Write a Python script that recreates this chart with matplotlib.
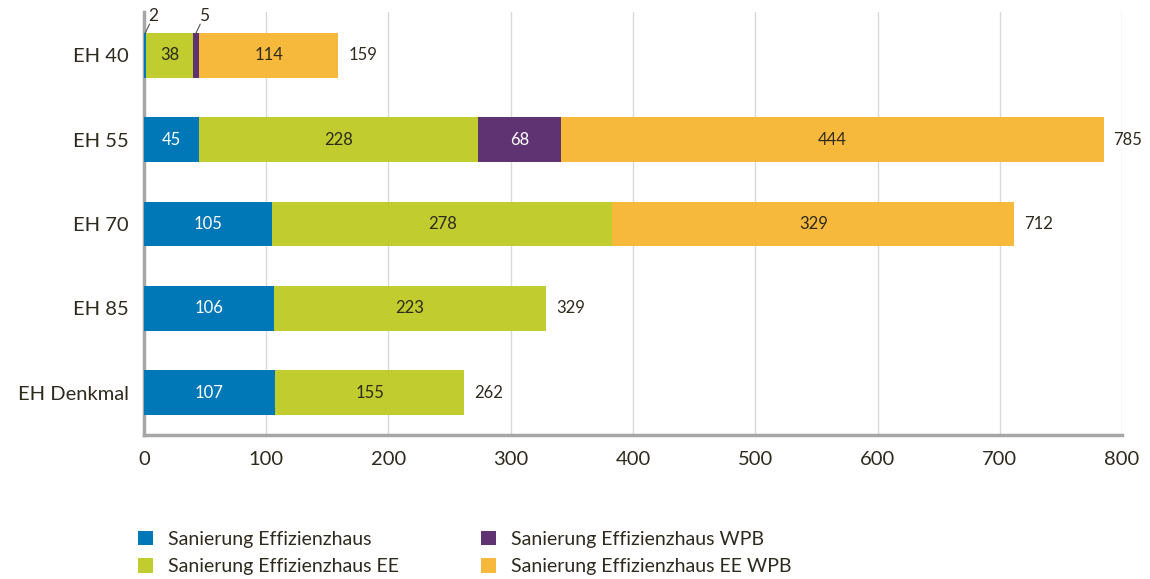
import numpy as np
import matplotlib.pyplot as plt

plt.rcParams['font.family'] = ['Lato', 'DejaVu Sans']

# Daten
kategorien = ['EH 40', 'EH 55', 'EH 70', 'EH 85', 'EH Denkmal']
sanierung_eh = [2, 45, 105, 106, 107]
sanierung_eh_ee = [38, 228, 278, 223, 155]
sanierung_eh_wpb = [5, 68, 0, 0, 0]
sanierung_eh_ee_wpb = [114, 444, 329, 0, 0]
summen = [159, 785, 712, 329, 262]

serien = [
    ('Sanierung Effizienzhaus', sanierung_eh, '#0077b6', 'white'),
    ('Sanierung Effizienzhaus EE', sanierung_eh_ee, '#c1cd2f', '#2e2a1e'),
    ('Sanierung Effizienzhaus WPB', sanierung_eh_wpb, '#5f3272', 'white'),
    ('Sanierung Effizienzhaus EE WPB', sanierung_eh_ee_wpb, '#f7b93c', '#2e2a1e'),
]

textfarbe = '#2e2a1e'

fig = plt.figure(figsize=(11.5, 5.79), dpi=100)
ax = fig.add_axes([0.1252, 0.249, 0.8505, 0.731])

y = np.arange(len(kategorien))
links = np.zeros(len(kategorien))
handles = {}
for name, werte, farbe, tfarbe in serien:
    werte = np.array(werte, dtype=float)
    b = ax.barh(y, werte, left=links, height=0.53, color=farbe, label=name, zorder=3)
    handles[name] = b
    for i, w in enumerate(werte):
        if w >= 20:
            ax.text(links[i] + w / 2, y[i], f'{int(w)}', ha='center', va='center',
                    color=tfarbe, fontsize=12, zorder=4)
        elif w > 0:
            # kleine Werte mit Hinweislinie oben
            x0 = links[i] + w / 2
            ax.plot([x0, x0 + 3.5], [y[i] - 0.265, y[i] - 0.37], color='#555555',
                    lw=0.8, zorder=4, clip_on=False)
            ax.text(x0 + 2.5, y[i] - 0.37, f'{int(w)}', ha='left', va='bottom',
                    fontsize=12.5, color=textfarbe, zorder=4)
    links += werte

for i, s in enumerate(summen):
    ax.text(s + 8, y[i], f'{s}', ha='left', va='center', color=textfarbe, fontsize=12)

ax.set_xlim(0, 800)
ax.set_ylim(4.5, -0.52)
ax.set_yticks(y)
ax.set_yticklabels(kategorien, fontsize=14.5, color=textfarbe)
ax.set_xticks(np.arange(0, 801, 100))
ax.set_xticklabels([str(v) for v in range(0, 801, 100)], fontsize=14.5, color=textfarbe)
ax.tick_params(axis='y', length=0, pad=11)
ax.tick_params(axis='x', length=0, pad=12)
ax.grid(axis='x', color='#d9d9d9', lw=1, zorder=0)
for s in ['top', 'right']:
    ax.spines[s].set_visible(False)
for s in ['left', 'bottom']:
    ax.spines[s].set_color('#a6a6a6')
    ax.spines[s].set_linewidth(2.5)

reihenfolge = ['Sanierung Effizienzhaus', 'Sanierung Effizienzhaus EE',
               'Sanierung Effizienzhaus WPB', 'Sanierung Effizienzhaus EE WPB']
fig.legend([handles[n] for n in reihenfolge], reihenfolge, loc='lower left',
           bbox_to_anchor=(0.105, -0.024), ncol=2, frameon=False, fontsize=14,
           handlelength=0.75, handleheight=0.75, handletextpad=0.8, columnspacing=4.2,
           labelspacing=0.55, labelcolor=textfarbe)

plt.savefig('out.png', dpi=100)
